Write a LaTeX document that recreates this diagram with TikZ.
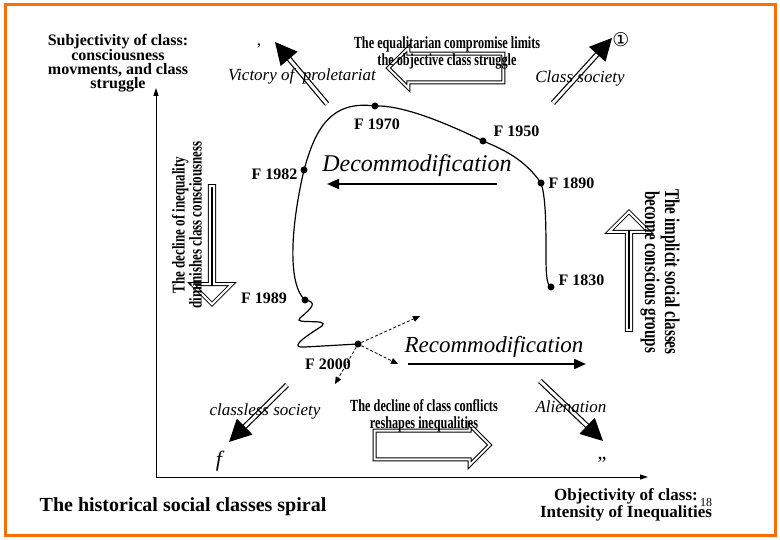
\documentclass[tikz,border=0pt]{standalone}
\usepackage{fontspec}
\setmainfont{Liberation Serif}
\newfontfamily\dejavu{DejaVu Sans}
\usetikzlibrary{arrows.meta,shapes.arrows}
\newcommand{\cnd}[1]{\scalebox{0.72}[1]{#1}}
\tikzset{
 flbl/.style={font=\bfseries\fontsize{16}{16}\selectfont},
 itl/.style={font=\itshape\fontsize{17}{17}\selectfont},
 cond/.style={font=\bfseries\fontsize{17}{17}\selectfont, align=center},
 dot/.style={circle,fill,inner sep=0pt,minimum size=7pt},
 hollow/.style={single arrow, draw, double, double distance=2pt, line width=1pt, fill=white, minimum width=40pt, inner xsep=0pt, inner ysep=10pt, single arrow head extend=4pt},
 blk/.style={double, double distance=3pt, line width=1.2pt, -{Triangle[length=22pt,width=22pt]}},
 dsh/.style={densely dashed, line width=0.8pt, -{Triangle[length=7pt,width=6pt]}},
}
\begin{document}
\begin{tikzpicture}[x=1pt,y=-1pt]
\useasboundingbox (0,0) rectangle (780,540);
\draw[orange!85!red, line width=3pt] (5,5) rectangle (775,535);
% axes
\coordinate (o) at (156,477);
\coordinate (ytop) at (156,88);
\coordinate (xend) at (648,477);
\draw[line width=0.8pt,-{Triangle[length=8pt,width=5pt]}] (o) -- (ytop);
\draw[line width=0.8pt,-{Triangle[length=8pt,width=5pt]}] (o) -- (xend);
% points
\node[dot] (p1830) at (551,287) {};
\node[dot] (p1890) at (541,183) {};
\node[dot] (p1950) at (483,141) {};
\node[dot] (p1970) at (375,106) {};
\node[dot] (p1982) at (304,170) {};
\node[dot] (p1989) at (305,300) {};
\node[dot] (p2000) at (358,344) {};
\draw[line width=1.2pt] (p1830.center) .. controls (546,285) and (546,270) .. (546,250)
  .. controls (546,215) and (545,195) .. (p1890.center)
  .. controls (525,160) and (505,150) .. (p1950.center)
  .. controls (440,120) and (400,105) .. (p1970.center)
  .. controls (330,100) and (315,130) .. (p1982.center)
  .. controls (290,230) and (288,285) .. (p1989.center)
  .. controls (318,302) and (312,308) .. (300,318)
  .. controls (292,325) and (330,318) .. (322,326)
  .. controls (300,340) and (290,348) .. (305,347)
  -- (p2000.center);
\node[flbl, anchor=west] at (555,280) {F 1830};
\node[flbl, anchor=west] at (545,183) {F 1890};
\node[flbl, anchor=west] at (490,131) {F 1950};
\node[flbl] at (377,124) {F 1970};
\node[flbl, anchor=east] at (301,174) {F 1982};
\node[flbl] at (264,298) {F 1989};
\node[flbl] at (328,364) {F 2000};
% dashed arrows
\coordinate (d1) at (420,316); \coordinate (d2) at (398,364); \coordinate (d3) at (335,384);
\draw[dsh] (p2000) -- (d1);
\draw[dsh] (p2000) -- (d2);
\draw[dsh] (p2000) -- (d3);
% decommodification
\node[font=\itshape\fontsize{24}{24}\selectfont] (dec) at (417,166) {Decommodification};
\coordinate (decR) at (497,184); \coordinate (decL) at (327,184);
\draw[line width=2pt,-{Triangle[length=12pt,width=10pt]}] (decR) -- (decL);
\node[font=\itshape\fontsize{23}{23}\selectfont] (rec) at (494,347) {Recommodification};
\coordinate (recL) at (408,364); \coordinate (recR) at (586,364);
\draw[line width=2pt,-{Triangle[length=12pt,width=10pt]}] (recL) -- (recR);
% hollow arrows
\node[hollow, minimum height=115pt, shape border rotate=180] (hTop) at (453,68) {};
\node[hollow, minimum height=118pt, shape border rotate=270] (hLeft) at (212,244) {};
\node[hollow, minimum height=118pt, shape border rotate=90] (hRight) at (629,272) {};
\node[hollow, minimum height=115pt] (hBot) at (425,445) {};
% black diagonal arrows
\coordinate (a1s) at (327,104); \coordinate (a1e) at (275,42);
\coordinate (a2s) at (553,103); \coordinate (a2e) at (612,38);
\coordinate (a3s) at (287,385); \coordinate (a3e) at (229,442);
\coordinate (a4s) at (540,381); \coordinate (a4e) at (603,441);
\draw[blk] (a1s) -- (a1e);
\draw[blk] (a2s) -- (a2e);
\draw[blk] (a3s) -- (a3e);
\draw[blk] (a4s) -- (a4e);
% texts
\node[align=center, font=\bfseries\fontsize{16}{14}\selectfont] (subj) at (118,63) {Subjectivity of class:\\consciousness\\movments,  and class\\struggle};
\node[font=\fontsize{17}{17}\selectfont] (comma) at (259,46) {,};
\node[itl] (vic) at (302,76) {Victory of \ proletariat};
\node[cond] (eq) at (447,53) {\cnd{The equalitarian compromise limits}\\\cnd{the objective class struggle}};
\node[font=\dejavu\fontsize{19}{19}\selectfont] (one) at (621,40) {①};
\node[itl] (cls) at (580,78) {Class society};
\node[cond, rotate=90, font=\bfseries\fontsize{18}{17}\selectfont] (dl) at (187,225) {\cnd{The decline of inequality}\\\cnd{diminishes class consciousness}};
\node[cond, rotate=-90, font=\bfseries\fontsize{21}{19}\selectfont] (imp) at (660,272) {\cnd{The implicit social classes}\\\cnd{become conscious groups}};
\node[itl] (cl) at (265,411) {classless society};
\node[itl, font=\itshape\fontsize{22}{22}\selectfont] (ff) at (219,461) {f};
\node[cond] (dc) at (424,416) {\cnd{The decline of class conflicts}\\\cnd{reshapes inequalities}};
\node[itl] (al) at (571,407) {Alienation};
\node[font=\fontsize{20}{20}\selectfont] (q) at (602,464) {”};
\node[font=\bfseries\fontsize{20}{20}\selectfont] (title) at (183,507) {The historical social classes spiral};
\node[align=center, font=\bfseries\fontsize{17}{15}\selectfont] (obj) at (626,505) {Objectivity of class:\\Intensity of Inequalities};
\node[font=\fontsize{12}{12}\selectfont] (pg) at (706,503) {18};
\end{tikzpicture}
\end{document}
